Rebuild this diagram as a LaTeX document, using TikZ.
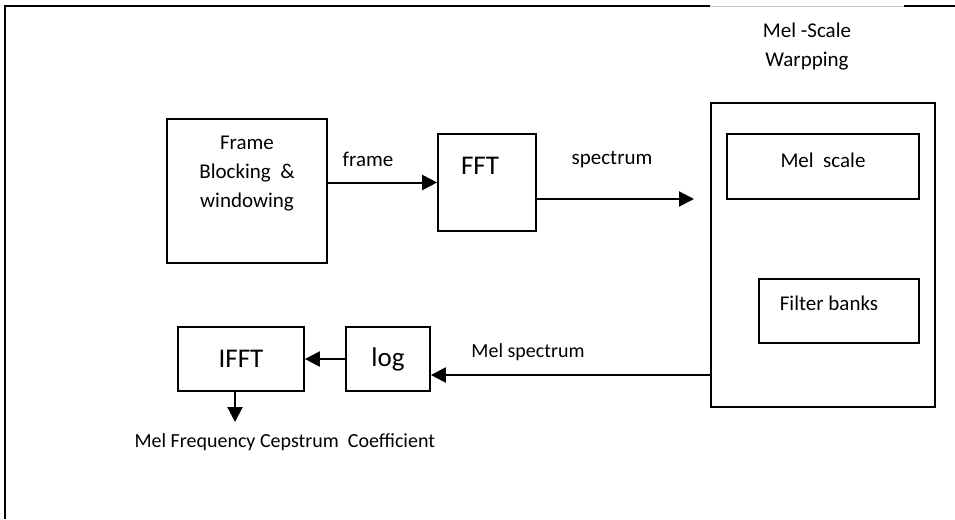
\documentclass[tikz,border=0pt]{standalone}
\usepackage{fontspec}
\setmainfont{Carlito}
\usepackage{tikz}
\usetikzlibrary{arrows.meta}

\begin{document}
\begin{tikzpicture}[x=1pt,y=-1pt,
		blk/.style={draw,line width=1.7pt,inner sep=0pt},
		arr/.style={line width=2pt,-{Triangle[length=15pt,width=15pt]}},
		lbl/.style={font=\fontsize{21}{29}\selectfont,align=center},
		big/.style={font=\fontsize{27}{30}\selectfont}]
				\useasboundingbox (0,0) rectangle (955,519);
				% aeusserer Rahmen (rechts und unten abgeschnitten)
				\draw[line width=2.3pt] (5,519) -- (5,6) -- (710,6);
				\draw[line width=2.3pt] (904,6) -- (955,6);
				\draw[thin,gray!45] (710,6) -- (904,6);
				% Bloecke
				\node[blk,minimum width=160pt,minimum height=144pt] (frameblk) at (247,191) {};
				\node[lbl] (frametxt) at (247,174) {Frame\\Blocking~~\&\\windowing};
				\node[blk,minimum width=98pt,minimum height=97pt] (fft) at (487,182.5) {};
				\node[big] (ffttxt) at (480,166) {FFT};
				\node[blk,minimum width=224pt,minimum height=304pt] (melbox) at (823,255) {};
				\node[lbl] (meltitle) at (807,47) {Mel -Scale\\Warpping};
				\node[blk,minimum width=192pt,minimum height=65pt] (melscale) at (823,166.5) {};
				\node[lbl] (melscaletxt) at (823,160) {Mel~~scale};
				\node[blk,minimum width=160pt,minimum height=64pt] (filterbanks) at (839,311) {};
				\node[lbl] (filtertxt) at (829,303) {Filter banks};
				\node[blk,minimum width=84pt,minimum height=64pt,big] (logbox) at (388,359) {log};
				\node[blk,minimum width=126pt,minimum height=64pt,big] (ifft) at (241,359) {IFFT};
				\node[lbl,anchor=west,font=\fontsize{20}{24}\selectfont] (mfcc) at (131,442) {Mel Frequency Cepstrum~~Coefficient};
				% Pfeile
				\coordinate (spcend) at (694,199);
				\coordinate (melout) at (711,375);
				\coordinate (cepout) at (235,422);
				\draw[arr] (frameblk.east |- fft.west) -- (fft.west);
				\node[lbl] (frametag) at (368,159) {frame};
				\draw[arr] (fft.east |- spcend) -- (spcend);
				\node[lbl] (spctag) at (612,160) {spectrum};
				\draw[arr] (melout) -- (logbox.east |- melout);
				\node[lbl,font=\fontsize{20}{24}\selectfont] (melspctag) at (528,352) {Mel spectrum};
				\draw[arr] (logbox.west) -- (ifft.east);
				\draw[arr] (ifft.south -| cepout) -- (cepout);
			\end{tikzpicture}
\end{document}
